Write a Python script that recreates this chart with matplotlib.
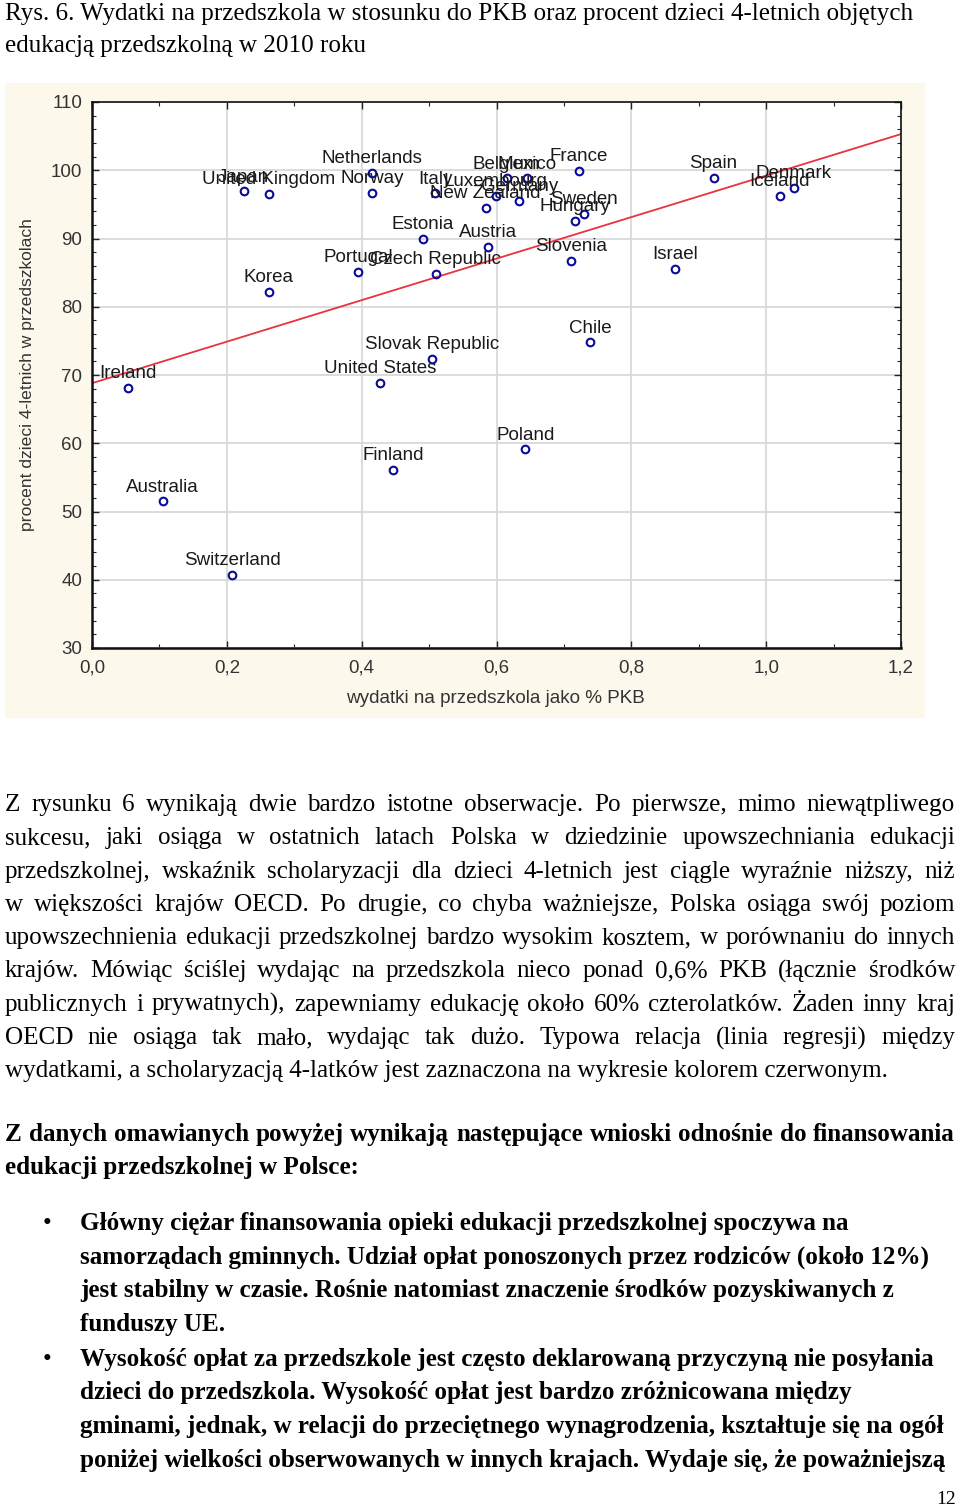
import numpy as np
import matplotlib
matplotlib.use("Agg")
import matplotlib.pyplot as plt
from matplotlib.patches import Rectangle
from matplotlib.ticker import FuncFormatter, MultipleLocator

# --- chart data ---
countries = ["Ireland", "Australia", "Switzerland", "Japan", "United Kingdom", "Korea",
             "Portugal", "Netherlands", "Norway", "United States", "Finland", "Estonia",
             "Slovak Republic", "Italy", "Czech Republic", "New Zealand", "Austria",
             "Luxembourg", "Belgium", "Germany", "Poland", "Mexico", "Slovenia", "Hungary",
             "France", "Sweden", "Chile", "Israel", "Spain", "Iceland", "Denmark"]
spending = [0.053, 0.105, 0.208, 0.225, 0.262, 0.262,
            0.395, 0.415, 0.415, 0.427, 0.447, 0.491,
            0.504, 0.509, 0.510, 0.584, 0.588,
            0.599, 0.615, 0.634, 0.643, 0.645, 0.711, 0.717,
            0.722, 0.730, 0.739, 0.865, 0.922, 1.020, 1.041]
enrolment = [68.1, 51.5, 40.7, 96.9, 96.5, 82.2,
             85.1, 99.6, 96.7, 68.9, 56.1, 89.9,
             72.4, 96.6, 84.8, 94.5, 88.8,
             96.3, 98.8, 95.5, 59.1, 98.8, 86.7, 92.6,
             99.9, 93.6, 74.8, 85.6, 98.9, 96.3, 97.4]
# regression line end points
reg_x = [0.0, 1.2]
reg_y = [68.8, 105.3]

# --- page text ---
caption = ["Rys. 6. Wydatki na przedszkola w stosunku do PKB oraz procent dzieci 4-letnich objętych",
           "edukacją przedszkolną w 2010 roku"]
para1 = ["Z rysunku 6 wynikają dwie bardzo istotne obserwacje. Po pierwsze, mimo niewątpliwego",
         "sukcesu, jaki osiąga w ostatnich latach Polska w dziedzinie upowszechniania edukacji",
         "przedszkolnej, wskaźnik scholaryzacji dla dzieci 4-letnich jest ciągle wyraźnie niższy, niż",
         "w większości krajów OECD. Po drugie, co chyba ważniejsze, Polska osiąga swój poziom",
         "upowszechnienia edukacji przedszkolnej bardzo wysokim kosztem, w porównaniu do innych",
         "krajów. Mówiąc ściślej wydając na przedszkola nieco ponad 0,6% PKB (łącznie środków",
         "publicznych i prywatnych), zapewniamy edukację około 60% czterolatków. Żaden inny kraj",
         "OECD nie osiąga tak mało, wydając tak dużo. Typowa relacja (linia regresji) między",
         "wydatkami, a scholaryzacją 4-latków jest zaznaczona na wykresie kolorem czerwonym."]
para2 = ["Z danych omawianych powyżej wynikają następujące wnioski odnośnie do finansowania",
         "edukacji przedszkolnej w Polsce:"]
bullet1 = ["Główny ciężar finansowania opieki edukacji przedszkolnej spoczywa na",
           "samorządach gminnych. Udział opłat ponoszonych przez rodziców (około 12%)",
           "jest stabilny w czasie. Rośnie natomiast znaczenie środków pozyskiwanych z",
           "funduszy UE."]
bullet2 = ["Wysokość opłat za przedszkole jest często deklarowaną przyczyną nie posyłania",
           "dzieci do przedszkola. Wysokość opłat jest bardzo zróżnicowana między",
           "gminami, jednak, w relacji do przeciętnego wynagrodzenia, kształtuje się na ogół",
           "poniżej wielkości obserwowanych w innych krajach. Wydaje się, że poważniejszą"]

W, H = 960, 1508
fig = plt.figure(figsize=(W / 100, H / 100), dpi=100)
fig.patch.set_facecolor("white")
renderer = fig.canvas.get_renderer()

SERIF = "Liberation Serif"
SANS = "Liberation Sans"
BODY = 18.1


def fx(x):
    return x / W


def fy(y):
    return 1 - y / H


def text_line(line, x0, x1, y, justify=False, weight="normal", size=BODY):
    words = line.split(" ")
    if not justify or len(words) < 2:
        fig.text(fx(x0), fy(y), line, family=SERIF, fontsize=size, weight=weight,
                 va="baseline", ha="left", color="black")
        return
    arts = [fig.text(0, 0, w, family=SERIF, fontsize=size, weight=weight,
                     va="baseline", ha="left", color="black") for w in words]
    widths = [a.get_window_extent(renderer).width for a in arts]
    gap = (x1 - x0 - sum(widths)) / (len(words) - 1)
    x = x0
    for a, w in zip(arts, widths):
        a.set_position((fx(x), fy(y)))
        x += w + gap


# caption
for i, line in enumerate(caption):
    text_line(line, 5, 955, 20 + 32 * i)

# chart panel background
fig.add_artist(Rectangle((fx(5), fy(718)), 920 / W, 635 / H, transform=fig.transFigure,
                         facecolor="#fcf8ec", edgecolor="none", zorder=0))

ax = fig.add_axes([fx(92), fy(648), 809 / W, 546 / H])
ax.set_facecolor("white")
ax.set_xlim(0, 1.2)
ax.set_ylim(30, 110)
ax.xaxis.set_major_locator(MultipleLocator(0.2))
ax.xaxis.set_minor_locator(MultipleLocator(0.1))
ax.yaxis.set_major_locator(MultipleLocator(10))
ax.yaxis.set_minor_locator(MultipleLocator(2))
ax.xaxis.set_major_formatter(FuncFormatter(lambda v, p: f"{v:.1f}".replace(".", ",")))
ax.grid(True, which="major", color="#d6d6d6", linewidth=1.2)
ax.set_axisbelow(True)
ax.tick_params(which="both", direction="in", top=True, right=True, colors="#222222",
               labelsize=13.5, labelcolor="#333333")
ax.tick_params(which="major", length=5, width=1)
ax.tick_params(which="minor", length=3, width=0.8)
ax.tick_params(axis="x", pad=8)
ax.tick_params(axis="y", pad=7)
for lab in ax.get_xticklabels() + ax.get_yticklabels():
    lab.set_family(SANS)
for s in ax.spines.values():
    s.set_color("#111111")
    s.set_linewidth(1.2)
ax.spines["left"].set_linewidth(1.8)
ax.spines["bottom"].set_linewidth(1.8)

ax.plot(reg_x, reg_y, color="#e8323f", linewidth=1.3, zorder=2)
ax.plot(spending, enrolment, linestyle="none", marker="o", markersize=5.5,
        markerfacecolor="none", markeredgecolor="#0a0a9a", markeredgewidth=1.5, zorder=3)
for name, xv, yv in zip(countries, spending, enrolment):
    ax.annotate(name, (xv, yv), xytext=(0, 7), textcoords="offset points",
                ha="center", va="baseline", family=SANS, fontsize=13.5,
                color="#1a1a1a", zorder=4)

fig.text(fx(495), fy(699), "wydatki na przedszkola jako % PKB", family=SANS,
         fontsize=13.6, color="#333333", ha="center", va="center")
fig.text(fx(28), fy(375), "procent dzieci 4-letnich w przedszkolach", family=SANS,
         fontsize=12.6, color="#333333", ha="center", va="center", rotation=90)

# paragraph 1 (justified)
for i, line in enumerate(para1):
    text_line(line, 5, 955, 811 + 33.3 * i, justify=(i < len(para1) - 1))

# paragraph 2 (bold)
for i, line in enumerate(para2):
    text_line(line, 5, 955, 1141 + 33.3 * i, justify=(i == 0), weight="bold")

# bullets
y = 1230
for block in (bullet1, bullet2):
    fig.text(fx(43), fy(y), "•", family=SERIF, fontsize=BODY, va="baseline", ha="left")
    for line in block:
        text_line(line, 80, 955, y, weight="bold")
        y += 33.6
    y += 1.5

fig.text(fx(956), fy(1504), "12", family=SERIF, fontsize=14, ha="right", va="baseline")

fig.savefig("out.png", dpi=100)
